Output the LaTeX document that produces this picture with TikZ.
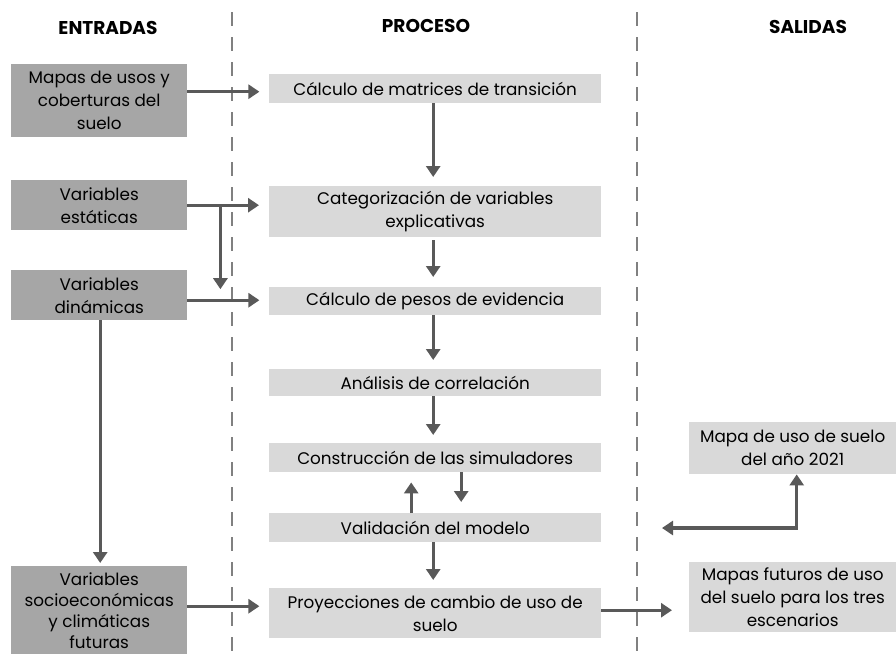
\documentclass[tikz,border=0pt]{standalone}
\usepackage{fontspec}
\setmainfont{Poppins}
\usetikzlibrary{arrows.meta,calc}
\definecolor{ingray}{HTML}{A6A6A6}
\definecolor{pgray}{HTML}{D9D9D9}
\definecolor{agray}{HTML}{595959}
\definecolor{dgray}{HTML}{808080}
\begin{document}
\begin{tikzpicture}[x=1pt,y=-1pt,
  txt/.style={font=\fontsize{16.8}{23}\selectfont, align=center, text=black},
  inbox/.style={txt, fill=ingray, minimum width=176pt, inner sep=0pt, anchor=north west},
  pbox/.style={txt, fill=pgray, minimum width=332pt, inner sep=0pt, anchor=north west},
  obox/.style={txt, fill=pgray, minimum width=207pt, inner sep=0pt, anchor=north west},
  head/.style={font=\fontsize{18.5}{20}\selectfont\bfseries},
  arr/.style={draw=agray, line width=3.2pt, -{Triangle[length=11pt,width=14pt]}},
  arrb/.style={draw=agray, line width=3.2pt, {Triangle[length=11pt,width=14pt]}-{Triangle[length=11pt,width=14pt]}},
  sep/.style={draw=dgray, line width=2.5pt, dash pattern=on 14pt off 11pt}
]
\useasboundingbox (0,0) rectangle (896,654);

% headings
\node[head] (hin) at (108,28) {ENTRADAS};
\node[head] (hpr) at (426,26) {PROCESO};
\node[head] (hout) at (808,27) {SALIDAS};

% separators
\coordinate (s1t) at (232,12);
\coordinate (s1b) at (232,654);
\coordinate (s2t) at (637,12);
\coordinate (s2b) at (637,654);
\draw[sep] (s1t) -- (s1b);
\draw[sep] (s2t) -- (s2b);

% inputs
\node[inbox, minimum height=73pt] (m1) at (11,64) {Mapas de usos y\\coberturas del\\suelo};
\node[inbox, minimum height=50pt] (est) at (11,180) {Variables\\estáticas};
\node[inbox, minimum height=50pt] (din) at (11,270) {Variables\\dinámicas};
\node[inbox, minimum height=88pt, font=\fontsize{16.8}{21}\selectfont] (soc) at (11,566) {Variables\\socioeconómicas\\y climáticas\\futuras};

% process
\node[pbox, minimum height=29pt] (p1) at (269,74) {Cálculo de matrices de transición};
\node[pbox, minimum height=51pt] (p2) at (269,186) {Categorización de variables\\explicativas};
\node[pbox, minimum height=28pt] (p3) at (269,287) {Cálculo de pesos de evidencia};
\node[pbox, minimum height=27pt] (p4) at (269,369) {Análisis de correlación};
\node[pbox, minimum height=29pt] (p5) at (269,443) {Construcción de las simuladores};
\node[pbox, minimum height=29pt] (p6) at (269,513) {Validación del modelo};
\node[pbox, minimum height=50pt] (p7) at (269,588) {Proyecciones de cambio de uso de\\suelo};

% outputs
\node[obox, minimum height=52pt] (o1) at (689,422) {Mapa de uso de suelo\\del año 2021};
\node[obox, minimum height=70pt] (o2) at (689,562) {Mapas futuros de uso\\del suelo para los tres\\escenarios};

% input arrows
\draw[arr, shorten >=10pt] ($(m1.east)+(0,-9)$) -- ($(m1.east)+(82,-9)$);
\draw[arr, shorten >=10pt] (est.east) -- (est.east -| p2.west);
\coordinate (br) at ($(est.east)+(33,0)$);
\draw[arr] (br) -- ++(0,84);
\draw[arr, shorten >=10pt] ($(din.east)+(0,5)$) -- ($(din.east)+(82,5)$);
\draw[arr, shorten >=3pt] ($(din.south)+(1,0)$) -- ($(soc.north)+(1,0)$);
\draw[arr, shorten >=10pt] ($(soc.east)+(0,-4)$) -- ($(soc.east)+(82,-4)$);

% process arrows
\draw[arr, shorten >=9pt] ($(p1.south)+(-2,0)$) -- ($(p2.north)+(-2,0)$);
\draw[arr, shorten >=10pt, shorten <=3pt] ($(p2.south)+(-2,0)$) -- ($(p3.north)+(-2,0)$);
\draw[arr, shorten >=9pt] ($(p3.south)+(-2,0)$) -- ($(p4.north)+(-2,0)$);
\draw[arr, shorten >=8pt] ($(p4.south)+(-2,0)$) -- ($(p5.north)+(-2,0)$);
\draw[arr, shorten >=11pt] ($(p5.south)+(26,0)$) -- ($(p6.north)+(26,0)$);
\draw[arr, shorten >=10pt] ($(p6.north)+(-24,0)$) -- ($(p5.south)+(-24,0)$);
\draw[arr, shorten >=8pt] ($(p6.south)+(-2,0)$) -- ($(p7.north)+(-2,0)$);

% output arrows
\draw[arr, shorten >=17pt] ($(p7.east)+(0,-3)$) -- ($(o2.west)+(0,13)$);
\coordinate (lt) at (662,528);
\draw[arrb] (lt) -| ($(o1.south)+(4,0)$);

\end{tikzpicture}
\end{document}
